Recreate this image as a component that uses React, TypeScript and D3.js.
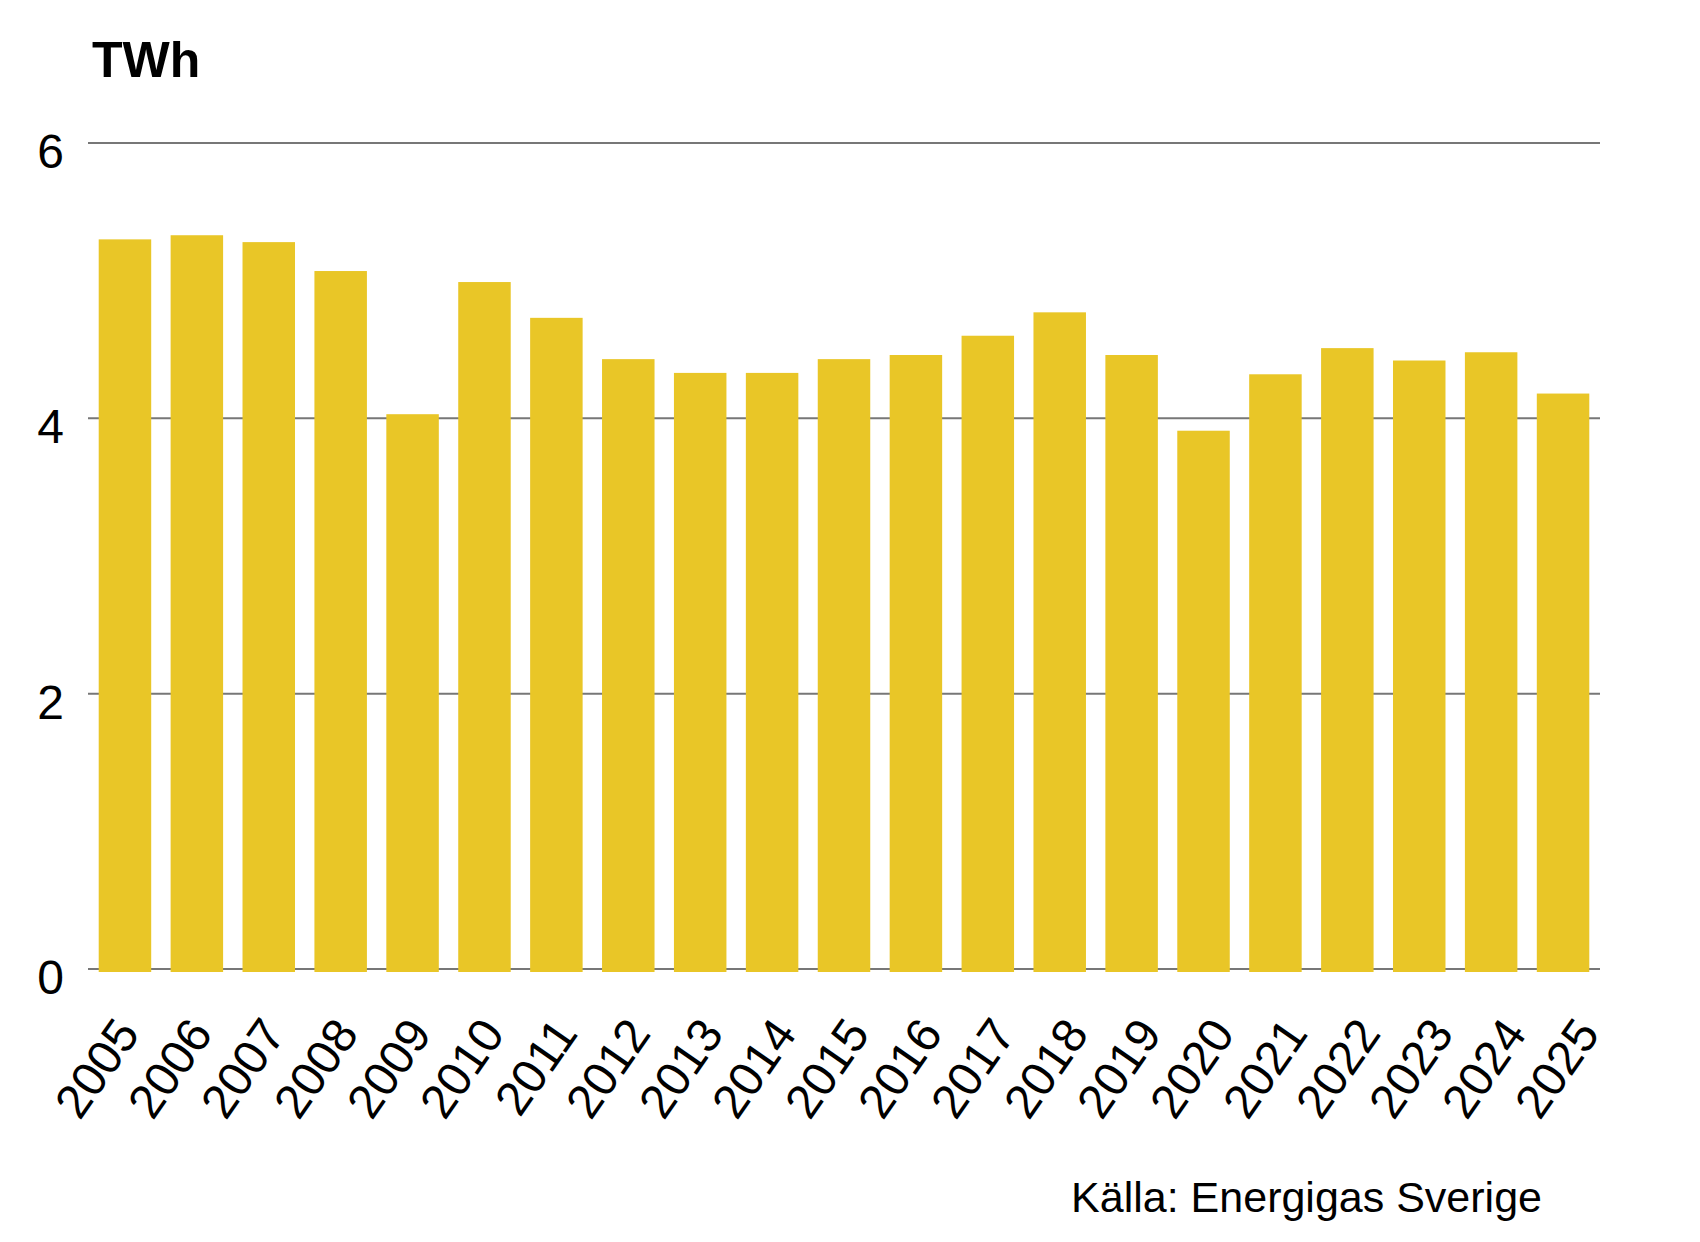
import React from "react";
import * as d3 from "d3";

const years: string[] = ["2005","2006","2007","2008","2009","2010","2011","2012","2013","2014","2015","2016","2017","2018","2019","2020","2021","2022","2023","2024","2025"];
const values: number[] = [5.30, 5.33, 5.28, 5.07, 4.03, 4.99, 4.73, 4.43, 4.33, 4.33, 4.43, 4.46, 4.60, 4.77, 4.46, 3.91, 4.32, 4.51, 4.42, 4.48, 4.18];
const yTicks: number[] = [0, 2, 4, 6];
const unitLabel = "TWh";
const sourceLabel = "Källa: Energigas Sverige";

const W = 1700;
const H = 1242;
const FONT = "'Liberation Sans', Arial, Helvetica, sans-serif";

export default function App() {
  const x = d3.scaleBand<string>().domain(years).range([89, 1599]).paddingInner(0.27).paddingOuter(0.135);
  const xLab = d3.scalePoint<string>().domain(years).range([141, 1601]);
  const y = d3.scaleLinear().domain([0, 6]).range([969, 143]);
  const barColor = "#E9C627";
  const gridColor = "#777777";

  return (
    <svg width={W} height={H} style={{ position: "absolute", left: 0, top: 0, background: "#fff" }} fontFamily={FONT}>
      <text x={92} y={77} fontSize={50} fontWeight="bold" fill="#000">{unitLabel}</text>
      {yTicks.map((t) => (
        <g key={t}>
          <line x1={88} x2={1600} y1={y(t)} y2={y(t)} stroke={gridColor} strokeWidth={2} />
          <text x={64} y={y(t) + 25} fontSize={48} textAnchor="end" fill="#000">{t}</text>
        </g>
      ))}
      {years.map((yr, i) => (
        <rect key={yr} x={x(yr)} y={y(values[i])} width={x.bandwidth()} height={y(0) - y(values[i]) + 3} fill={barColor} />
      ))}
      {years.map((yr) => (
        <text key={yr} transform={`translate(${xLab(yr)},${1034}) rotate(-55)`} fontSize={48} textAnchor="end" fill="#000">{yr}</text>
      ))}
      <text x={1542} y={1212} fontSize={43} textAnchor="end" fill="#000">{sourceLabel}</text>
    </svg>
  );
}
